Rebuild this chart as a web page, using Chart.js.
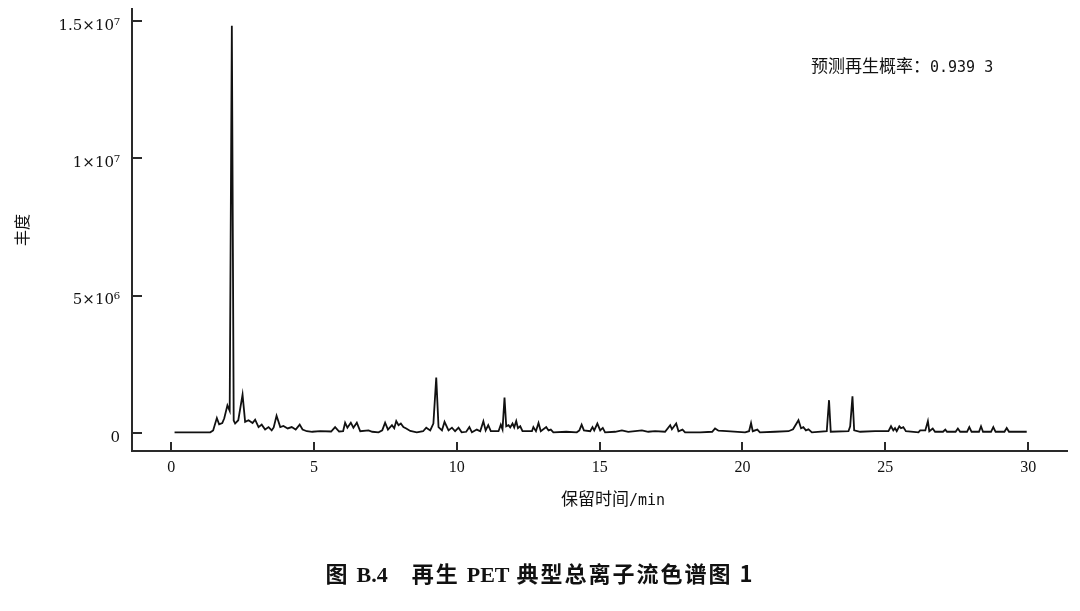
<!DOCTYPE html>
<html>
<head>
<meta charset="utf-8">
<script src="https://cdn.jsdelivr.net/npm/chart.js@4/dist/chart.umd.min.js"></script>
<style>
  body { margin: 0; background: #fff; }
  #wrap { position: relative; width: 1080px; height: 611px; overflow: hidden; }
  #tic { position: absolute; left: 0; top: 0; }
  .txt { position: absolute; white-space: nowrap; color: #111; }
  .cjk { font-family: "Noto Sans CJK SC", sans-serif; }
  .mono { font-family: "DejaVu Sans Mono", "Liberation Mono", monospace; }
  #note { left: 811px; top: 54px; font-size: 17px; line-height: 22px; }
  #note .mono { font-size: 15px; }
  #xTitle { left: 561px; top: 487px; font-size: 17px; line-height: 22px; }
  #xTitle .mono { font-size: 15px; }
  #caption { left: 0; width: 1080px; top: 559px; text-align: center; font-size: 22px; line-height: 26px; font-weight: bold; letter-spacing: 2px; }
  #caption .lat { font-family: "Liberation Serif", serif; letter-spacing: 0; }
</style>
</head>
<body>
<div id="wrap">
  <canvas id="tic" width="1080" height="611"></canvas>
  <div id="note" class="txt cjk">预测再生概率：<span class="mono">0.939 3</span></div>
  <div id="xTitle" class="txt cjk">保留时间<span class="mono">/min</span></div>
  <div id="caption" class="txt cjk">图 <span class="lat">B.4</span>　再生 <span class="lat">PET</span> 典型总离子流色谱图 1</div>
</div>
<script>
// total ion chromatogram, [retention time (min), abundance]
const ticPoints = [
  [0.12, 0.02e6], [1.37, 0.02e6], [1.47, 0.09e6], [1.60, 0.54e6], [1.68, 0.31e6],
  [1.79, 0.36e6], [1.86, 0.53e6], [1.97, 1.00e6], [2.05, 0.80e6], [2.125, 14.82e6],
  [2.19, 0.45e6], [2.24, 0.34e6], [2.35, 0.46e6], [2.50, 1.39e6], [2.59, 0.40e6],
  [2.71, 0.46e6], [2.85, 0.36e6], [2.94, 0.48e6], [3.06, 0.21e6], [3.17, 0.30e6],
  [3.29, 0.12e6], [3.41, 0.21e6], [3.52, 0.09e6], [3.59, 0.20e6], [3.69, 0.62e6],
  [3.82, 0.21e6], [3.93, 0.25e6], [4.08, 0.16e6], [4.22, 0.21e6], [4.36, 0.12e6],
  [4.50, 0.30e6], [4.60, 0.12e6], [4.75, 0.06e6], [4.94, 0.04e6], [5.22, 0.06e6],
  [5.60, 0.05e6], [5.74, 0.21e6], [5.88, 0.05e6], [6.02, 0.06e6], [6.09, 0.37e6],
  [6.17, 0.19e6], [6.29, 0.37e6], [6.38, 0.19e6], [6.50, 0.37e6], [6.62, 0.06e6],
  [6.91, 0.09e6], [7.04, 0.04e6], [7.26, 0.02e6], [7.39, 0.09e6], [7.49, 0.37e6],
  [7.59, 0.12e6], [7.73, 0.28e6], [7.81, 0.17e6], [7.88, 0.43e6], [7.96, 0.28e6],
  [8.04, 0.34e6], [8.13, 0.21e6], [8.23, 0.16e6], [8.37, 0.07e6], [8.60, 0.02e6],
  [8.82, 0.06e6], [8.93, 0.19e6], [9.07, 0.09e6], [9.18, 0.34e6], [9.28, 2.01e6],
  [9.36, 0.21e6], [9.48, 0.09e6], [9.57, 0.40e6], [9.71, 0.09e6], [9.83, 0.19e6],
  [9.94, 0.06e6], [10.06, 0.19e6], [10.17, 0.02e6], [10.33, 0.04e6], [10.44, 0.21e6],
  [10.53, 0.02e6], [10.70, 0.12e6], [10.82, 0.06e6], [10.93, 0.42e6], [11.01, 0.09e6],
  [11.10, 0.28e6], [11.19, 0.06e6], [11.46, 0.06e6], [11.54, 0.30e6], [11.60, 0.13e6],
  [11.67, 1.29e6], [11.73, 0.24e6], [11.81, 0.28e6], [11.87, 0.20e6], [11.95, 0.34e6],
  [12.01, 0.20e6], [12.08, 0.43e6], [12.14, 0.17e6], [12.22, 0.24e6], [12.30, 0.06e6],
  [12.63, 0.06e6], [12.68, 0.21e6], [12.77, 0.06e6], [12.86, 0.36e6], [12.94, 0.06e6],
  [13.13, 0.21e6], [13.21, 0.09e6], [13.29, 0.12e6], [13.38, 0.02e6], [13.83, 0.04e6],
  [14.20, 0.02e6], [14.29, 0.09e6], [14.37, 0.30e6], [14.45, 0.09e6], [14.67, 0.06e6],
  [14.75, 0.21e6], [14.81, 0.09e6], [14.92, 0.34e6], [15.02, 0.09e6], [15.11, 0.18e6],
  [15.19, 0.02e6], [15.54, 0.04e6], [15.78, 0.09e6], [16.00, 0.04e6], [16.48, 0.09e6],
  [16.70, 0.04e6], [16.94, 0.06e6], [17.29, 0.04e6], [17.47, 0.28e6], [17.53, 0.13e6],
  [17.68, 0.34e6], [17.76, 0.06e6], [17.90, 0.12e6], [17.99, 0.02e6], [18.52, 0.02e6],
  [18.94, 0.04e6], [19.04, 0.16e6], [19.16, 0.08e6], [19.45, 0.06e6], [20.09, 0.02e6],
  [20.23, 0.06e6], [20.30, 0.36e6], [20.36, 0.06e6], [20.52, 0.12e6], [20.61, 0.02e6],
  [21.14, 0.04e6], [21.61, 0.06e6], [21.77, 0.13e6], [21.96, 0.46e6], [22.05, 0.17e6],
  [22.13, 0.21e6], [22.22, 0.09e6], [22.31, 0.13e6], [22.43, 0.02e6], [22.95, 0.06e6],
  [23.03, 1.19e6], [23.09, 0.04e6], [23.71, 0.06e6], [23.77, 0.24e6], [23.85, 1.33e6],
  [23.91, 0.09e6], [24.12, 0.04e6], [24.64, 0.06e6], [25.11, 0.06e6], [25.20, 0.24e6],
  [25.28, 0.09e6], [25.34, 0.17e6], [25.40, 0.06e6], [25.49, 0.24e6], [25.55, 0.17e6],
  [25.63, 0.21e6], [25.72, 0.06e6], [26.16, 0.02e6], [26.22, 0.09e6], [26.40, 0.09e6],
  [26.49, 0.43e6], [26.54, 0.06e6], [26.66, 0.16e6], [26.74, 0.04e6], [27.02, 0.04e6],
  [27.10, 0.12e6], [27.16, 0.04e6], [27.46, 0.04e6], [27.54, 0.16e6], [27.62, 0.04e6],
  [27.86, 0.04e6], [27.94, 0.21e6], [28.02, 0.04e6], [28.28, 0.04e6], [28.35, 0.24e6],
  [28.42, 0.04e6], [28.70, 0.04e6], [28.78, 0.21e6], [28.86, 0.04e6], [29.17, 0.04e6],
  [29.25, 0.18e6], [29.33, 0.04e6], [29.95, 0.04e6]
];

const xTicks = [0, 5, 10, 15, 20, 25, 30];
const yTicks = [0, 5e6, 1e7, 1.5e7];
const yTickLabels = ["0", "5×10⁶", "1×10⁷", "1.5×10⁷"];

const axisColor = "#2a2a2a";
const serif = "'Liberation Serif', 'DejaVu Serif', serif";

// tick marks of the figure point into the plot
const innerTicks = {
  id: "innerTicks",
  afterDraw(chart) {
    const ctx = chart.ctx;
    const x = chart.scales.x, y = chart.scales.y;
    ctx.save();
    ctx.strokeStyle = axisColor;
    ctx.lineWidth = 2;
    ctx.beginPath();
    y.ticks.forEach(t => {
      const py = Math.round(y.getPixelForValue(t.value));
      ctx.moveTo(y.right, py);
      ctx.lineTo(y.right + 10, py);
    });
    x.ticks.forEach(t => {
      const px = Math.round(x.getPixelForValue(t.value));
      ctx.moveTo(px, x.top);
      ctx.lineTo(px, x.top - 9);
    });
    ctx.stroke();
    ctx.restore();
  }
};

new Chart(document.getElementById("tic"), {
  type: "line",
  data: {
    datasets: [{
      data: ticPoints.map(p => ({ x: p[0], y: p[1] })),
      borderColor: "#111",
      borderWidth: 1.8,
      pointRadius: 0,
      tension: 0,
      fill: false
    }]
  },
  options: {
    responsive: false,
    animation: false,
    devicePixelRatio: 1,
    layout: { padding: { left: 0, right: 13, top: 9, bottom: 90 } },
    plugins: { legend: { display: false }, tooltip: { enabled: false } },
    scales: {
      x: {
        type: "linear",
        min: -1.37,
        max: 31.36,
        afterBuildTicks: s => { s.ticks = xTicks.map(v => ({ value: v })); },
        afterFit: s => { s.height = 70; s.paddingLeft = 0; s.paddingRight = 0; },
        grid: { display: true, drawOnChartArea: false, drawTicks: false },
        border: { display: true, color: axisColor, width: 2 },
        ticks: {
          padding: 7,
          color: "#111",
          font: { family: serif, size: 16 },
          callback: v => String(v)
        }
      },
      y: {
        type: "linear",
        min: -0.66e6,
        max: 15.43e6,
        afterBuildTicks: s => { s.ticks = yTicks.map(v => ({ value: v })); },
        afterFit: s => { s.width = 132; s.paddingTop = 0; s.paddingBottom = 0; },
        grid: { display: true, drawOnChartArea: false, drawTicks: false },
        border: { display: true, color: axisColor, width: 2 },
        title: {
          display: true,
          text: "丰度",
          color: "#111",
          font: { family: "'Noto Sans CJK SC', sans-serif", size: 16 },
          padding: { top: 12, bottom: 0 }
        },
        ticks: {
          padding: 12,
          labelOffset: 5,
          color: "#111",
          font: { family: "'DejaVu Serif', serif", size: 15 },
          callback: v => yTickLabels[yTicks.indexOf(v)]
        }
      }
    }
  },
  plugins: [innerTicks]
});
</script>
</body>
</html>
